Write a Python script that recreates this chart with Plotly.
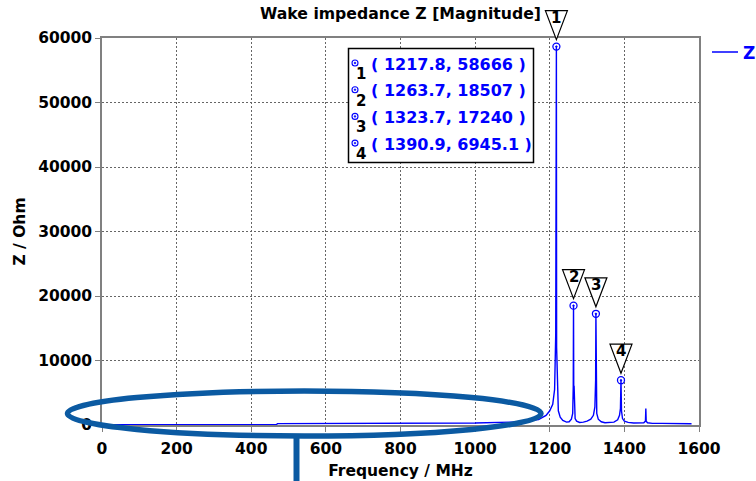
import plotly.graph_objects as go

# Wake impedance magnitude spectrum (frequency in MHz, |Z| in Ohm)
freq_base = [0, 100, 200, 300, 400, 468, 470, 600, 800, 1000, 1100, 1150,
             1170, 1190, 1200, 1208, 1213, 1216, 1217.2, 1218.4, 1219.0,
             1219.6, 1220.5, 1223, 1228, 1235, 1245, 1252, 1258, 1261.5,
             1263.0, 1264.4, 1265.2, 1266.0, 1268, 1272, 1280, 1290, 1300,
             1310, 1317, 1321, 1323.0, 1324.4, 1326, 1330, 1338, 1348, 1360,
             1372, 1382, 1387, 1389.5, 1392.3, 1395, 1400, 1410, 1425, 1440,
             1452, 1456.5, 1457.5, 1458.5, 1462, 1475, 1500, 1530, 1560, 1580]
z_base = [60, 60, 60, 60, 60, 60, 220, 230, 250, 300, 450, 700,
          850, 1500, 2200, 3200, 5500, 14000, 40000, 12000, 10500,
          11600, 4500, 2200, 1200, 700, 450, 500, 900, 1800,
          6000, 4000, 6100, 1800, 1000, 600, 400, 450, 600,
          900, 1500, 2800, 7000, 4000, 1800, 900, 500, 350, 350,
          450, 800, 1500, 2600, 2200, 1000, 600, 400, 300, 300,
          350, 600, 2550, 600, 350, 250, 250, 250, 200, 200]

# Marked resonances
peak_id = ["1", "2", "3", "4"]
peak_freq = [1217.8, 1263.7, 1323.7, 1390.9]
peak_z = [58666, 18507, 17240, 6945.1]

x_ticks = [0, 200, 400, 600, 800, 1000, 1200, 1400, 1600]
y_ticks = [0, 10000, 20000, 30000, 40000, 50000, 60000]
X_MAX = 1600
Y_MAX = 60000

pts = sorted(list(zip(freq_base, z_base)) + list(zip(peak_freq, peak_z)))
freq = [p[0] for p in pts]
zmag = [p[1] for p in pts]

BLUE = "#0000FF"
FONT = "DejaVu Sans"
W, H = 756, 481
ML, MR, MT, MB = 102, 57, 38, 56


def px(x):
    return (x - ML) / (W - ML - MR)


def py(y):
    return (H - MB - y) / (H - MT - MB)


fig = go.Figure()
fig.add_trace(go.Scatter(x=freq, y=zmag, mode="lines", name="Z",
                         line=dict(color=BLUE, width=1.4),
                         showlegend=False, hoverinfo="x+y"))
fig.add_trace(go.Scatter(x=peak_freq, y=peak_z, mode="markers",
                         marker=dict(symbol="circle-open-dot", size=7,
                                     color=BLUE, line=dict(width=1.3)),
                         showlegend=False, cliponaxis=False))

shapes = []
annotations = []

# Downward-pointing callouts above each marked peak
for k, f, z in zip(peak_id, peak_freq, peak_z):
    shapes.append(dict(type="path", xref="x", yref="paper",
                       xsizemode="pixel", ysizemode="pixel",
                       xanchor=f, yanchor=z / Y_MAX,
                       path="M -11,36 L 11,36 L 0,7 Z",
                       fillcolor="white", line=dict(color="black", width=1.2),
                       layer="above"))
    annotations.append(dict(x=f, y=z, xref="x", yref="y", yshift=29,
                            text=k, showarrow=False,
                            font=dict(family=FONT, size=15, color="black",
                                      weight="bold")))

# Readout box listing the peak coordinates
shapes.append(dict(type="rect", xref="paper", yref="paper",
                   x0=px(348.5), x1=px(533.5), y0=py(162.5), y1=py(48.5),
                   fillcolor="white", line=dict(color="black", width=1.5),
                   layer="above"))
for i, (k, f, z) in enumerate(zip(peak_id, peak_freq, peak_z)):
    yc = 64 + i * 26.7
    shapes.append(dict(type="circle", xref="paper", yref="paper",
                       xsizemode="pixel", ysizemode="pixel",
                       xanchor=px(355), yanchor=py(yc - 1),
                       x0=-3, x1=3, y0=-3, y1=3,
                       line=dict(color=BLUE, width=1.1), layer="above"))
    shapes.append(dict(type="circle", xref="paper", yref="paper",
                       xsizemode="pixel", ysizemode="pixel",
                       xanchor=px(355), yanchor=py(yc - 1),
                       x0=-0.9, x1=0.9, y0=-0.9, y1=0.9,
                       fillcolor=BLUE, line=dict(color=BLUE, width=0.5),
                       layer="above"))
    annotations.append(dict(x=px(361), y=py(yc + 10), xref="paper",
                            yref="paper", text=k, showarrow=False,
                            xanchor="center", yanchor="middle",
                            font=dict(family=FONT, size=15, color="black",
                                      weight="bold")))
    annotations.append(dict(x=px(369), y=py(yc), xref="paper", yref="paper",
                            text=f"( {f:.5g}, {z:.5g} )", showarrow=False,
                            xanchor="left", yanchor="middle",
                            font=dict(family=FONT, size=16, color=BLUE,
                                      weight="bold")))

# Series key at the top right
shapes.append(dict(type="line", xref="paper", yref="paper",
                   x0=px(712), x1=px(738), y0=py(52), y1=py(52),
                   line=dict(color=BLUE, width=1.5)))
annotations.append(dict(x=px(741), y=py(53), xref="paper", yref="paper",
                        text="Z", showarrow=False, xanchor="left",
                        yanchor="middle",
                        font=dict(family=FONT, size=17, color=BLUE,
                                  weight="bold")))

# Highlight ring around the low-frequency baseline
RING = "#0B5AA2"
shapes.append(dict(type="circle", xref="paper", yref="paper",
                   x0=px(67.5), x1=px(541), y0=py(436), y1=py(391),
                   line=dict(color=RING, width=5.5), layer="above"))
shapes.append(dict(type="line", xref="paper", yref="paper",
                   x0=px(296.5), x1=px(296.5), y0=py(437), y1=py(484),
                   line=dict(color=RING, width=6), layer="above"))

axis_font = dict(family=FONT, size=15.5, color="black", weight="bold")
grid = dict(showgrid=True, gridcolor="#666666", griddash="2px,2px",
            gridwidth=1, zeroline=False, showline=True,
            linecolor="#808080", linewidth=1.5, mirror=True,
            ticks="outside", ticklen=5, tickcolor="#808080",
            tickfont=axis_font, automargin=False)
fig.update_layout(
    width=W, height=H,
    margin=dict(l=ML, r=MR, t=MT, b=MB, autoexpand=False),
    paper_bgcolor="white", plot_bgcolor="white",
    font=dict(family=FONT, color="black"),
    title=dict(text="Wake impedance Z [Magnitude]", xref="paper", x=0.5,
               xanchor="center", y=1 - 14 / H, yanchor="middle",
               font=dict(family=FONT, size=15.7, color="black",
                         weight="bold")),
    xaxis=dict(range=[0, X_MAX], tickvals=x_ticks,
               ticktext=[str(v) for v in x_ticks], ticklabelstandoff=4,
               title=dict(text="Frequency / MHz", font=axis_font,
                          standoff=8),
               **grid),
    yaxis=dict(range=[0, Y_MAX], tickvals=y_ticks,
               ticktext=[str(v) for v in y_ticks],
               title=dict(text="Z / Ohm", font=axis_font, standoff=9),
               **grid),
    shapes=shapes,
    annotations=annotations,
    showlegend=False,
)

fig.write_html("out.html")
